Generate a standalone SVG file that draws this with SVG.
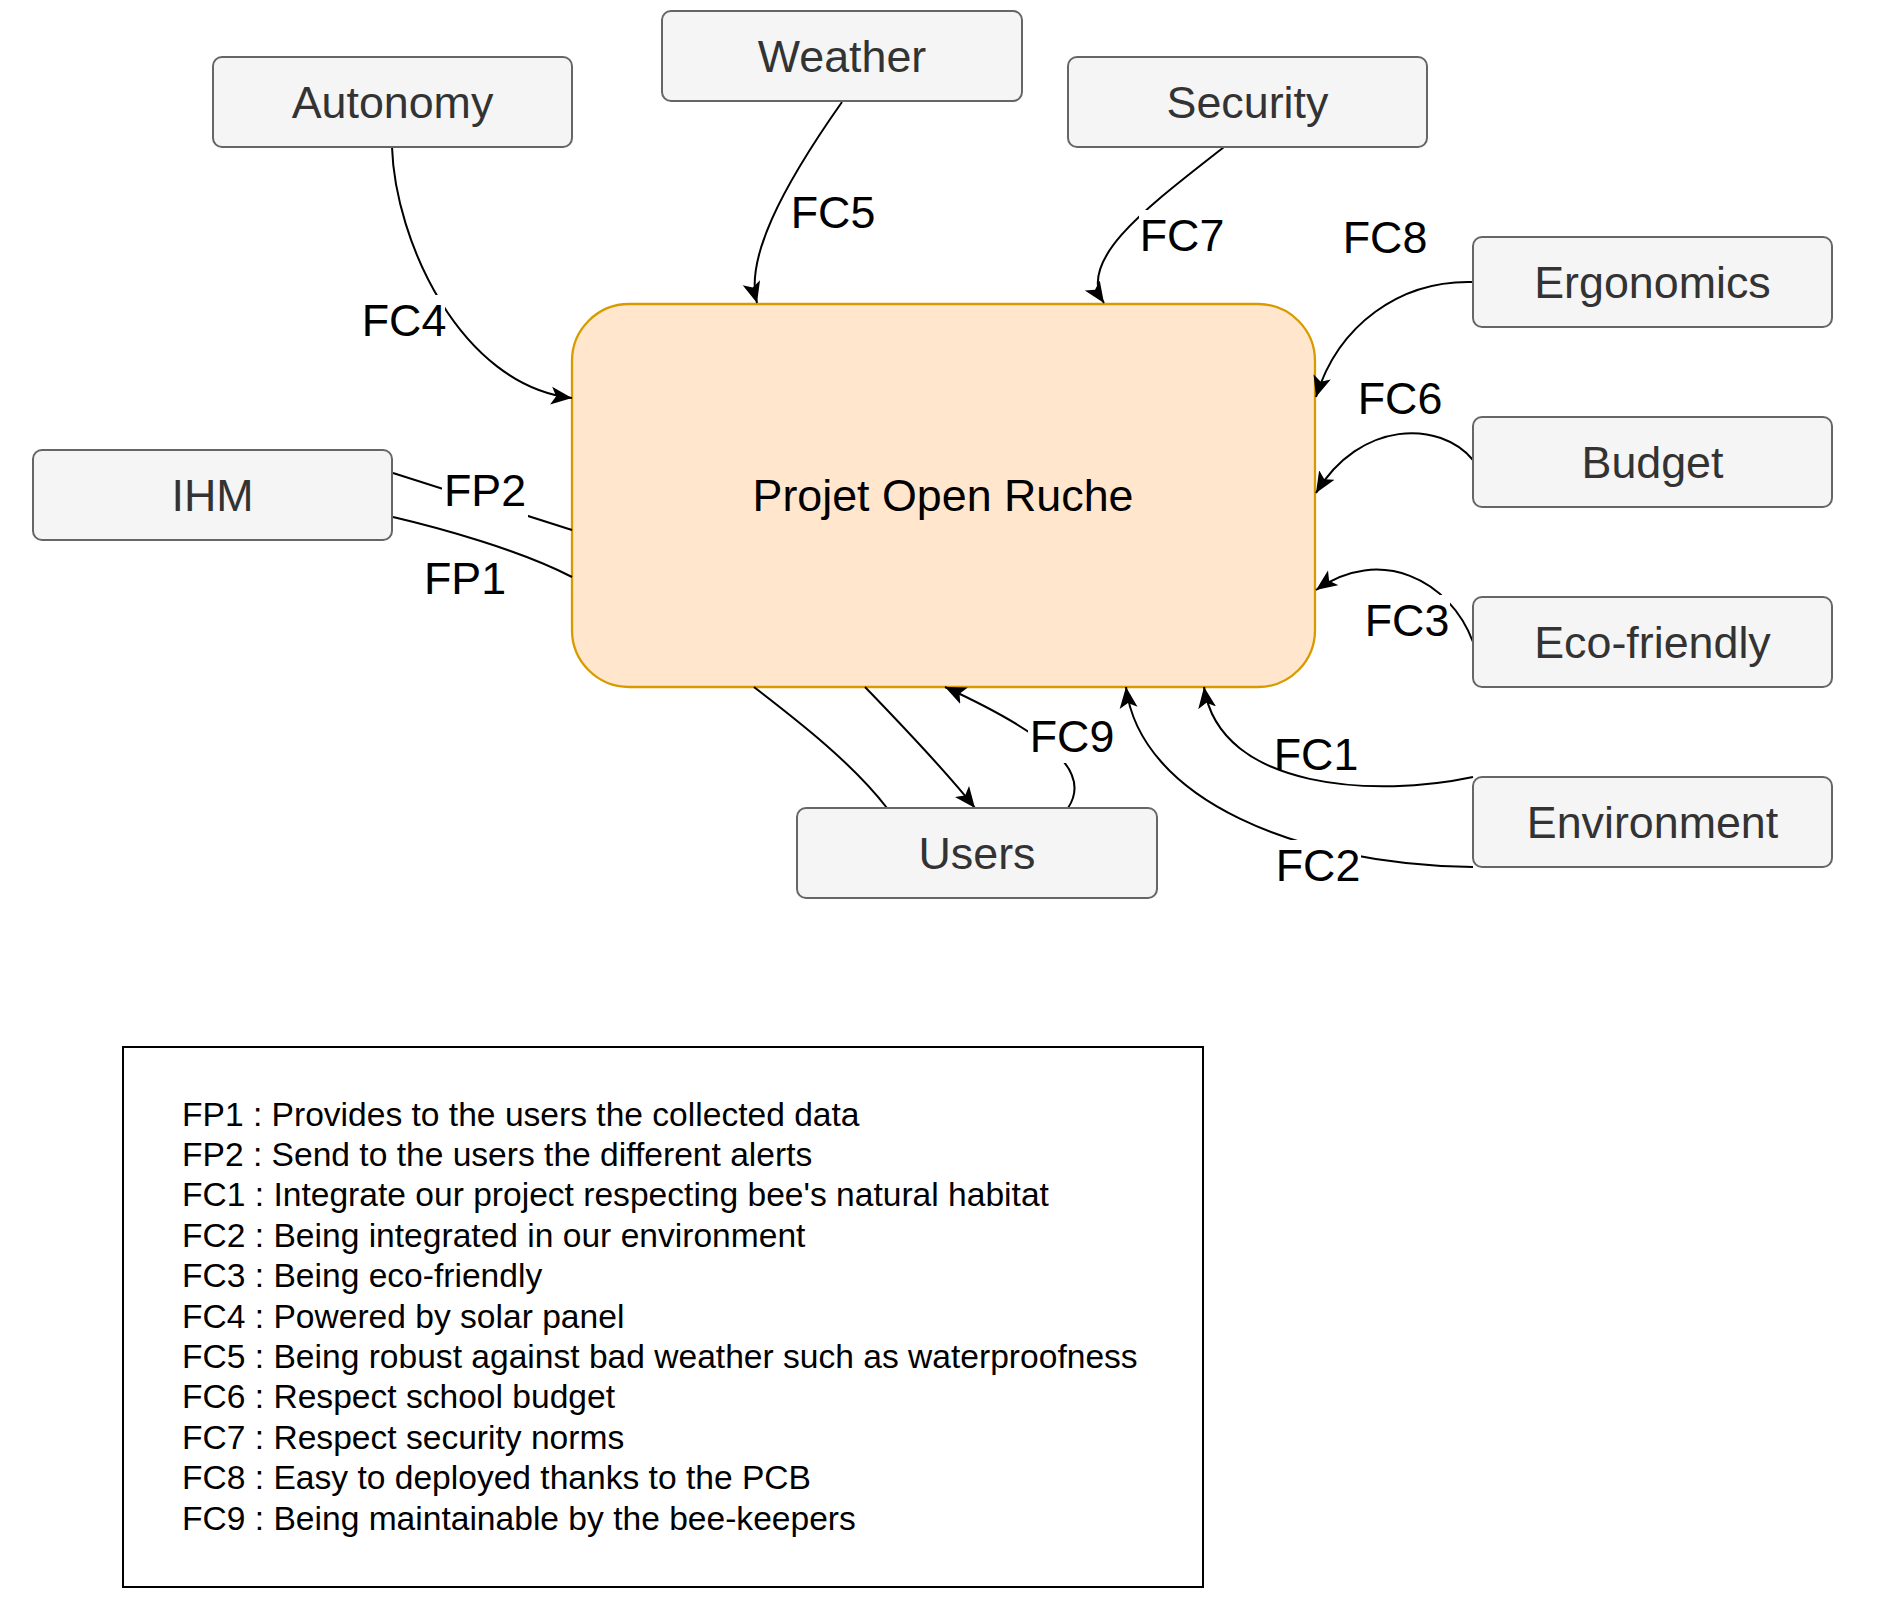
<svg xmlns="http://www.w3.org/2000/svg" width="1902" height="1608" viewBox="0 0 1902 1608">
<style>
.node rect{fill:#f5f5f5;stroke:#666;stroke-width:2}
.node text{font-family:"Liberation Sans",Arial,sans-serif;font-size:44.8px;fill:#333;text-anchor:middle}
#main rect{fill:#ffe6cc;stroke:#d79b00;stroke-width:2.3}
#main text{fill:#000}
.edge{fill:none;stroke:#000;stroke-width:2}
.lbl{font-family:"Liberation Sans",Arial,sans-serif;font-size:44.8px;fill:#000;text-anchor:middle}
.bg{fill:#fff}
#legend rect{fill:none;stroke:#000;stroke-width:2}
#legend text{font-family:"Liberation Sans",Arial,sans-serif;font-size:33.6px;fill:#000}
</style>
<defs>
<marker id="arr" markerUnits="userSpaceOnUse" markerWidth="22" markerHeight="20" viewBox="0 0 22 20" refX="21" refY="10" orient="auto">
<path d="M0,1 L21,10 L0,19 L5,10 z" fill="#000"/>
</marker>
</defs>
<rect width="1902" height="1608" fill="#fff"/>

<g id="main">
<rect x="572" y="304" width="743" height="383" rx="57" ry="57"/>
<text class="lbl" x="943" y="511">Projet Open Ruche</text>
</g>

<g id="connectors">
<path id="e-fc4" class="edge" d="M392,147 C395,240 460,385 572,398" marker-end="url(#arr)"/>
<path id="e-fc5" class="edge" d="M842,102 C780,190 745,260 757,303" marker-end="url(#arr)"/>
<path id="e-fc7" class="edge" d="M1224,147 C1150,205 1075,260 1104,303" marker-end="url(#arr)"/>
<path id="e-fc8" class="edge" d="M1473,282 C1400,280 1338,325 1316,397" marker-end="url(#arr)"/>
<path id="e-fc6" class="edge" d="M1473,460 C1440,420 1360,420 1316,493" marker-end="url(#arr)"/>
<path id="e-fc3" class="edge" d="M1473,642 C1450,580 1380,545 1316,590" marker-end="url(#arr)"/>
<path id="e-fc1" class="edge" d="M1473,777 C1380,797 1220,792 1204,687" marker-end="url(#arr)"/>
<path id="e-fc2" class="edge" d="M1473,867 C1300,865 1140,800 1126,687" marker-end="url(#arr)"/>
<path id="e-fc9" class="edge" d="M1068,808 C1090,775 1060,740 945,687" marker-end="url(#arr)"/>
<path id="e-u1" class="edge" d="M754,687 C790,715 850,760 887,808"/>
<path id="e-u2" class="edge" d="M865,687 C895,718 945,770 975,808" marker-end="url(#arr)"/>
<path id="e-fp2" class="edge" d="M393,473 L572,530"/>
<path id="e-fp1" class="edge" d="M393,517 C440,528 520,550 572,577"/>

<rect class="bg" x="361" y="295" width="84" height="52"/>
<text class="lbl" x="404" y="336">FC4</text>
<rect class="bg" x="790" y="187" width="86" height="52"/>
<text class="lbl" x="833" y="228">FC5</text>
<rect class="bg" x="1139" y="210" width="86" height="52"/>
<text class="lbl" x="1182" y="251">FC7</text>
<text class="lbl" x="1385" y="253">FC8</text>
<text class="lbl" x="1400" y="414">FC6</text>
<rect class="bg" x="1364" y="595" width="86" height="52"/>
<text class="lbl" x="1407" y="636">FC3</text>
<text class="lbl" x="1316" y="770">FC1</text>
<rect class="bg" x="1275" y="840" width="86" height="52"/>
<text class="lbl" x="1318" y="881">FC2</text>
<rect class="bg" x="1028" y="711" width="87" height="52"/>
<text class="lbl" x="1072" y="752">FC9</text>
<rect class="bg" x="442" y="465" width="86" height="52"/>
<text class="lbl" x="485" y="506">FP2</text>
<text class="lbl" x="465" y="594">FP1</text>
</g>

<g id="autonomy" class="node"><rect x="213" y="57" width="359" height="90" rx="9"/><text x="392.5" y="118">Autonomy</text></g>
<g id="weather" class="node"><rect x="662" y="11" width="360" height="90" rx="9"/><text x="842" y="72">Weather</text></g>
<g id="security" class="node"><rect x="1068" y="57" width="359" height="90" rx="9"/><text x="1247.5" y="118">Security</text></g>
<g id="ergonomics" class="node"><rect x="1473" y="237" width="359" height="90" rx="9"/><text x="1652.5" y="298">Ergonomics</text></g>
<g id="budget" class="node"><rect x="1473" y="417" width="359" height="90" rx="9"/><text x="1652.5" y="478">Budget</text></g>
<g id="ecofriendly" class="node"><rect x="1473" y="597" width="359" height="90" rx="9"/><text x="1652.5" y="658">Eco-friendly</text></g>
<g id="environment" class="node"><rect x="1473" y="777" width="359" height="90" rx="9"/><text x="1652.5" y="838">Environment</text></g>
<g id="ihm" class="node"><rect x="33" y="450" width="359" height="90" rx="9"/><text x="212.5" y="511">IHM</text></g>
<g id="users" class="node"><rect x="797" y="808" width="360" height="90" rx="9"/><text x="977" y="869">Users</text></g>

<g id="legend">
<rect x="123" y="1047" width="1080" height="540"/>
<text x="182" y="1125.5">FP1 : Provides to the users the collected data</text>
<text x="182" y="1166">FP2 : Send to the users the different alerts</text>
<text x="182" y="1206.4">FC1 : Integrate our project respecting bee's natural habitat</text>
<text x="182" y="1246.8">FC2 : Being integrated in our environment</text>
<text x="182" y="1287.2">FC3 : Being eco-friendly</text>
<text x="182" y="1327.6">FC4 : Powered by solar panel</text>
<text x="182" y="1368">FC5 : Being robust against bad weather such as waterproofness</text>
<text x="182" y="1408.4">FC6 : Respect school budget</text>
<text x="182" y="1448.8">FC7 : Respect security norms</text>
<text x="182" y="1489.2">FC8 : Easy to deployed thanks to the PCB</text>
<text x="182" y="1529.6">FC9 : Being maintainable by the bee-keepers</text>
</g>
</svg>
